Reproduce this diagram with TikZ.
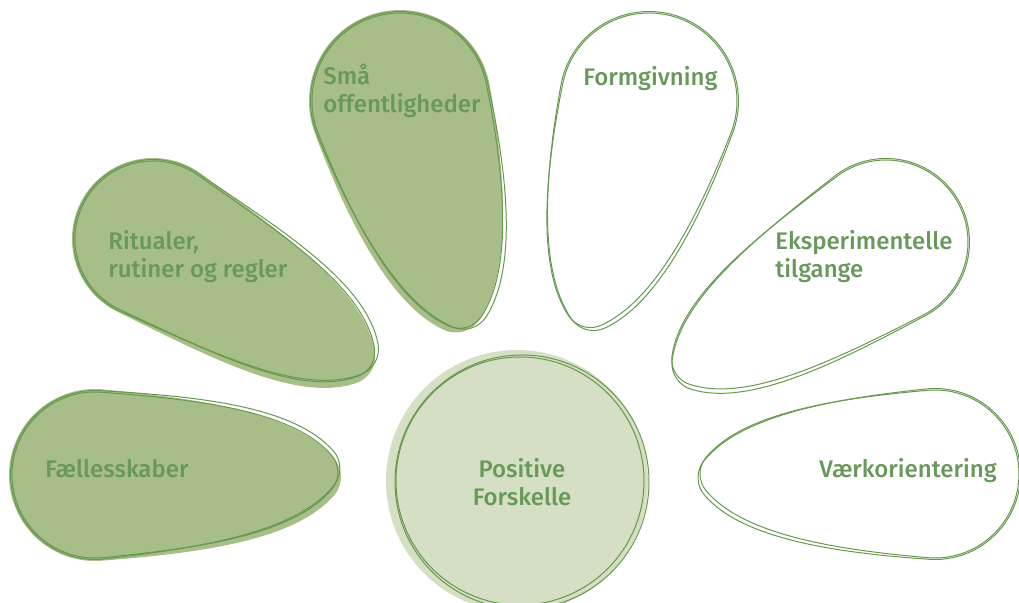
\documentclass[tikz,border=0pt]{standalone}
\usepackage{fontspec}
\setmainfont{Fira Sans}[UprightFont={* Medium}]
\usepackage{tikz}

\definecolor{leafgreen}{HTML}{A8BE89}
\definecolor{coregreen}{HTML}{D5DFC4}
\definecolor{linegreen}{HTML}{66984F}
\definecolor{textgreen}{HTML}{68985A}

% petal: style, centre, angle, big radius, tip radius, length
\newcommand{\drawpetal}[6]{%
  \pgfmathsetmacro\lR{#4}\pgfmathsetmacro\lr{#5}\pgfmathsetmacro\ld{#6}%
  \pgfmathsetmacro\lax{\lR*cos(85)}\pgfmathsetmacro\lay{\lR*sin(85)}%
  \pgfmathsetmacro\lbx{\ld-\lr+\lr*cos(40)}\pgfmathsetmacro\lby{\lr*sin(40)}%
  \pgfmathsetmacro\lca{0.42*(\lbx-\lax)}\pgfmathsetmacro\lcb{0.26*(\lbx-\lax)}%
  \path[#1, shift={(#2)}, rotate={#3}] (\lax,\lay) arc[start angle=85, end angle=275, radius=\lR]
    .. controls +(5:\lca) and +(230:\lcb) .. (\lbx,-\lby) arc[start angle=-40, end angle=40, radius=\lr]
    .. controls +(130:\lcb) and +(-5:\lca) .. (\lax,\lay) -- cycle;}

\begin{document}
\begin{tikzpicture}[x=0.5pt, y=-0.5pt, font=\fontsize{12}{14}\selectfont, text=textgreen,
    leaf/.style={fill=leafgreen},
    rim/.style={draw=linegreen, line width=0.5pt},
    leaftext/.style={anchor=base west, align=left, inner sep=0pt}]
    \useasboundingbox (0,0) rectangle (1019,603);

    % filled petals
    \foreach \px/\py/\pa/\pR/\pr/\pd in {95/475/0.7/83/26/243, 153/239/-30/78/26/252, 400/101/-73.5/88/26/236}{
        \drawpetal{leaf}{\px,\py}{\pa-1.2}{\pR+3}{\pr+2}{\pd+3}
    }
    % outlines
    \foreach \px/\py/\pa/\pR/\pr/\pd in {95/475/0.7/83/26/243, 153/239/-30/78/26/252, 400/101/-73.5/88/26/236,
        649/101/-106.3/88/26/235, 886/242/-148/82/26/248, 935/474/180/84/26/235}{
        \drawpetal{rim}{\px,\py}{\pa}{\pR}{\pr}{\pd}
        \drawpetal{rim}{\px,\py}{\pa+1}{\pR+1.5}{\pr+1}{\pd+2}
    }

    \node[circle, fill=coregreen, minimum size=131pt, inner sep=0pt] (coreback) at (517,481) {};
    \node[circle, draw=linegreen, line width=0.5pt, minimum size=127pt, inner sep=0pt, align=center] (core) at (522,482) {Positive\\Forskelle};
    \draw[rim] (core.center) ++(-2,-1) circle[radius=124];

    \node[leaftext] (together) at (45,478) {Fællesskaber};
    \node[leaftext] (rituals) at (108,278) {Ritualer,\\rutiner og regler};
    \node[leaftext] (publics) at (323,113) {Små\\offentligheder};
    \node[leaftext] (shaping) at (583,86) {Formgivning};
    \node[leaftext] (experiments) at (775,278) {Eksperimentelle\\tilgange};
    \node[leaftext] (works) at (819,478) {Værkorientering};
\end{tikzpicture}
\end{document}
